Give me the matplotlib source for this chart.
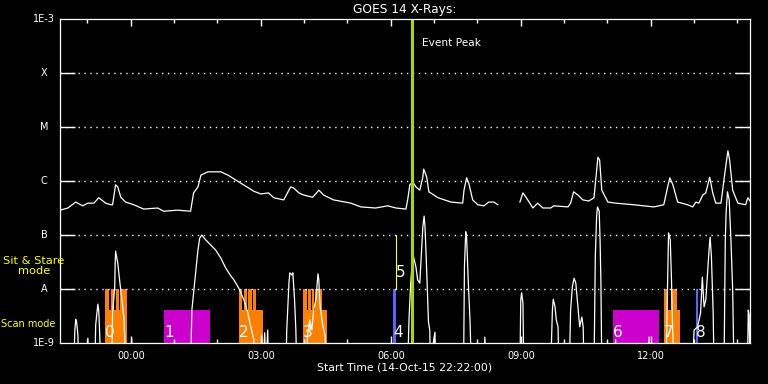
import numpy as np
import matplotlib.pyplot as plt
from matplotlib.ticker import FixedLocator, NullLocator

# time in hours from 00:00 UT 15-Oct-2015, flux as log10(W/m^2)
BASE = -9.5  # below the plot floor

long_t = [-1.63, -1.45, -1.27, -1.11, -0.99, -0.85, -0.74, -0.58, -0.46, -0.42, -0.35, -0.30,
          -0.23, -0.12, 0.07, 0.30, 0.62, 0.76, 1.08, 1.38, 1.45, 1.55, 1.62, 1.78, 2.08, 2.24,
          2.54, 2.84, 3.00, 3.18, 3.30, 3.53, 3.69, 3.76, 3.88, 3.99, 4.20, 4.34, 4.45, 4.68,
          5.08, 5.31, 5.65, 5.93, 6.12, 6.35, 6.39, 6.44, 6.51, 6.58, 6.67, 6.74, 6.76, 6.83,
          6.88, 7.09, 7.39, 7.66, 7.69, 7.75, 7.80, 7.89, 8.01, 8.15, 8.26, 8.38, 8.47, 8.70,
          8.98, 9.05, 9.12, 9.28, 9.39, 9.51, 9.69, 9.76, 10.09, 10.15, 10.22, 10.32, 10.43,
          10.57, 10.69, 10.73, 10.78, 10.82, 10.87, 11.01, 11.19, 11.61, 12.07, 12.30, 12.39,
          12.44, 12.51, 12.62, 12.85, 12.97, 13.04, 13.11, 13.20, 13.27, 13.36, 13.43, 13.50,
          13.62, 13.71, 13.78, 13.82, 13.89, 14.01, 14.19, 14.24, 14.31]
long_log = [-6.54, -6.50, -6.39, -6.46, -6.41, -6.41, -6.31, -6.41, -6.44, -6.44, -6.07, -6.11,
            -6.30, -6.39, -6.44, -6.52, -6.50, -6.56, -6.54, -6.56, -6.22, -6.11, -5.89, -5.83,
            -5.83, -5.89, -6.04, -6.19, -6.24, -6.22, -6.31, -6.35, -6.11, -6.13, -6.22, -6.26,
            -6.30, -6.17, -6.26, -6.35, -6.41, -6.48, -6.50, -6.46, -6.50, -6.52, -6.35, -6.07,
            -6.02, -6.11, -6.17, -5.93, -5.78, -5.93, -6.20, -6.31, -6.39, -6.41, -6.17, -5.94,
            -6.04, -6.35, -6.44, -6.46, -6.39, -6.39, -6.44, np.nan,
            -6.39, -6.22, -6.30, -6.50, -6.41, -6.50, -6.50, -6.46, -6.48, -6.41, -6.20, -6.26,
            -6.35, -6.37, -6.31, -5.98, -5.56, -5.61, -6.17, -6.39, -6.41, -6.44, -6.48, -6.44,
            -6.11, -5.94, -6.07, -6.39, -6.44, -6.48, -6.39, -6.41, -6.26, -6.22, -5.93, -6.22,
            -6.41, -6.41, -5.85, -5.44, -5.61, -6.17, -6.41, -6.44, -6.31, -6.39]

B = BASE
short_t = [-1.63, -1.32, -1.29, -1.27, -1.25, -1.22, -1.20,
           -1.02, -0.99, -0.97,
           -0.83, -0.81, -0.76, -0.74, -0.72, -0.69,
           -0.44, -0.42, -0.37, -0.36, -0.35, -0.30, -0.25, -0.21, -0.16, -0.14, -0.12,
           0.00, 0.02, 0.05,
           1.38, 1.41, 1.55, 1.59, 1.64, 1.68, 1.73, 1.85, 1.96, 2.08, 2.19, 2.31, 2.38, 2.49,
           2.61, 2.70, 2.77, 2.84, 2.86,
           3.00, 3.02, 3.05, 3.09, 3.12, 3.16, 3.18,
           3.58, 3.60, 3.65, 3.67, 3.72, 3.74, 3.78, 3.81, 3.83,
           4.04, 4.08, 4.13, 4.18, 4.22, 4.27, 4.29, 4.32, 4.34, 4.36, 4.38, 4.43, 4.48, 4.52,
           6.39, 6.42, 6.46, 6.51, 6.58, 6.62, 6.67, 6.71, 6.74, 6.77, 6.79, 6.82, 6.85, 6.87,
           6.90, 6.92, 6.99, 7.02, 7.04,
           7.68, 7.70, 7.73, 7.75, 7.79, 7.83, 7.86,
           8.15, 8.17, 8.21,
           8.98, 9.00, 9.02, 9.05, 9.07,
           9.69, 9.73, 9.75, 9.79, 9.82, 9.86, 9.88,
           10.12, 10.15, 10.19, 10.23, 10.27, 10.32, 10.36, 10.41, 10.44, 10.46,
           10.69, 10.72, 10.75, 10.77, 10.81, 10.83, 10.85, 10.87,
           11.17, 11.19, 11.21, 11.94, 11.96, 11.98,
           12.35, 12.39, 12.41, 12.45, 12.48, 12.50, 12.53,
           12.96, 13.00, 13.08, 13.15, 13.19, 13.23, 13.27, 13.31, 13.35, 13.37, 13.40, 13.44, 13.46,
           13.69, 13.72, 13.74, 13.77, 13.81, 13.85, 13.89, 13.92,
           14.23, 14.25, 14.27, 14.29]
short_log = [B, B, -8.76, -8.56, -8.61, -8.85, B,
             B, -8.91, B,
             B, -8.67, -8.28, -8.39, -8.76, B,
             B, -8.44, -7.96, -7.52, -7.30, -7.52, -7.89, -8.15, -8.52, -8.89, B,
             B, -8.91, B,
             B, -8.39, -7.28, -7.06, -7.00, -7.04, -7.09, -7.19, -7.28, -7.43, -7.61, -7.76, -7.83, -7.98,
             -8.20, -8.44, -8.70, -8.94, B,
             B, -8.85, B, -8.81, B, -8.76, B,
             B, -8.76, -7.89, -7.70, -7.74, -7.70, -8.20, -8.76, B,
             B, -8.85, -8.57, -8.76, -8.39, -8.20, -8.02, -7.72, -7.83, -8.20, -8.39, -8.67, -8.85, B,
             B, -8.57, -7.89, -7.35, -7.59, -7.83, -7.89, -7.28, -6.85, -6.65, -6.85, -7.46, -8.15, -8.61,
             -8.76, B, -8.94, -8.80, B,
             B, -7.59, -6.94, -7.04, -7.89, -8.61, B,
             B, -8.89, B,
             B, -8.20, -8.07, -8.26, B,
             B, -8.39, -8.19, -8.33, -8.57, -8.70, B,
             B, -8.39, -7.96, -7.80, -7.89, -8.33, -8.70, -8.52, -8.70, B,
             B, -7.41, -6.67, -6.48, -6.56, -7.09, -7.89, B,
             B, -8.94, B, B, -8.89, B,
             B, -7.74, -6.96, -7.09, -7.89, -8.61, B,
             B, -8.76, -8.70, -8.44, -7.78, -8.33, -8.20, -7.70, -7.22, -7.04, -7.41, -8.44, B,
             B, -7.09, -6.56, -6.20, -6.35, -7.09, -8.02, B,
             B, -8.39, -8.48, B]

# observing modes (hours)
scan_level = 10 ** -8.39
stare_level = 1e-8
orange_scan_start = [-0.60, 2.49, 3.97, 12.30]
orange_scan_end = [-0.09, 3.05, 4.52, 12.67]
stare_start = [-0.60, -0.46, -0.35, -0.24, 2.49, 2.61, 2.71, 2.83, 3.97, 4.08, 4.18, 4.26, 12.30, 12.46]
stare_end = [-0.50, -0.38, -0.28, -0.09, 2.57, 2.68, 2.79, 2.90, 4.06, 4.15, 4.24, 4.42, 12.40, 12.60]
magenta_start = [0.76, 11.12]
magenta_end = [1.82, 12.19]
blue_start = [6.05, 13.04]
blue_end = [6.11, 13.10]
group_labels = ['0', '1', '2', '3', '4', '6', '7', '8']
group_start = [-0.60, 0.76, 2.49, 3.97, 6.05, 11.12, 12.30, 13.04]
event5_t = 6.13
event_peak_t = 6.48

levels = [1e-9, 1e-8, 1e-7, 1e-6, 1e-5, 1e-4, 1e-3]
level_names = ['1E-9', 'A', 'B', 'C', 'M', 'X', '1E-3']
hour_ticks = [0, 3, 6, 9, 12]
hour_labels = ['00:00', '03:00', '06:00', '09:00', '12:00']

plt.rcParams['font.family'] = 'DejaVu Sans'
fig = plt.figure(figsize=(7.68, 3.84), dpi=100, facecolor='black')
ax = fig.add_axes([60 / 768, 41 / 384, 690 / 768, 324 / 384], facecolor='black')
ax.set_yscale('log')
ax.set_ylim(1e-9, 1e-3)
ax.set_xlim(-1.633, 14.29)


def mode_bars(starts, ends, top, color):
    ax.bar(starts, top - 1e-9, width=np.subtract(ends, starts), bottom=1e-9,
           align='edge', color=color, lw=0)


orange = '#ff8000'
mode_bars(orange_scan_start, orange_scan_end, scan_level, orange)
mode_bars(stare_start, stare_end, stare_level, orange)
mode_bars(magenta_start, magenta_end, scan_level, '#cc00cc')
mode_bars(blue_start, blue_end, stare_level, '#6060ff')
ax.plot([event5_t, event5_t], [1e-8, 1e-7], color='yellow', lw=0.8)

ax.plot(long_t, 10 ** np.array(long_log), color='white', lw=0.9)
ax.plot(short_t, 10 ** np.array(short_log), color='white', lw=0.9)

ax.axvline(event_peak_t, color='#a8d800', lw=2.2)
ax.text(event_peak_t + 0.24, 10 ** -3.44, 'Event Peak', color='white', fontsize=7.6, va='center')

for lab, t0 in zip(group_labels, group_start):
    ax.text(t0 + 0.12, 10 ** -8.8, lab, color='white', fontsize=11, ha='center', va='center')
ax.text(event5_t + 0.1, 10 ** -7.69, '5', color='white', fontsize=11, ha='center', va='center')

# axes styling
for s in ax.spines.values():
    s.set_color('white')
    s.set_linewidth(0.9)
ax.yaxis.set_major_locator(FixedLocator(levels[1:-1]))
ax.yaxis.set_minor_locator(NullLocator())
ax.tick_params(axis='y', which='major', direction='in', length=11, width=1,
               color='white', left=True, right=True, labelleft=False)
ax.grid(axis='y', color='white', linestyle=(0, (1, 3.3)), linewidth=1)
ax.set_xticks(hour_ticks)
ax.set_xticklabels(hour_labels)
ax.xaxis.set_minor_locator(FixedLocator(range(-1, 15)))
ax.tick_params(axis='x', which='major', direction='in', length=5, width=1, color='white',
               top=True, bottom=True, labelcolor='white', labelsize=7, pad=6)
ax.tick_params(axis='x', which='minor', direction='in', length=2.7, width=1, color='white',
               top=True, bottom=True)

for lv, name in zip(levels, level_names):
    ax.text(-0.0232, lv, name, transform=ax.get_yaxis_transform(), color='white',
            fontsize=7, ha='center', va='center')
ax.text(-0.0377, 10 ** -7.565, 'Sit & Stare\nmode', transform=ax.get_yaxis_transform(),
        color='yellow', fontsize=8.2, ha='center', va='center', linespacing=1.0)
ax.text(-0.0464, 10 ** -8.65, 'Scan mode', transform=ax.get_yaxis_transform(),
        color='yellow', fontsize=7, ha='center', va='center')

fig.text(405 / 768, 1 - 9 / 384, 'GOES 14 X-Rays:', color='white', fontsize=8.8,
         ha='center', va='center')
fig.text(405 / 768, 1 - 368 / 384, 'Start Time (14-Oct-15 22:22:00)', color='white',
         fontsize=7.8, ha='center', va='center')

fig.savefig('out.png', dpi=100, facecolor='black')
